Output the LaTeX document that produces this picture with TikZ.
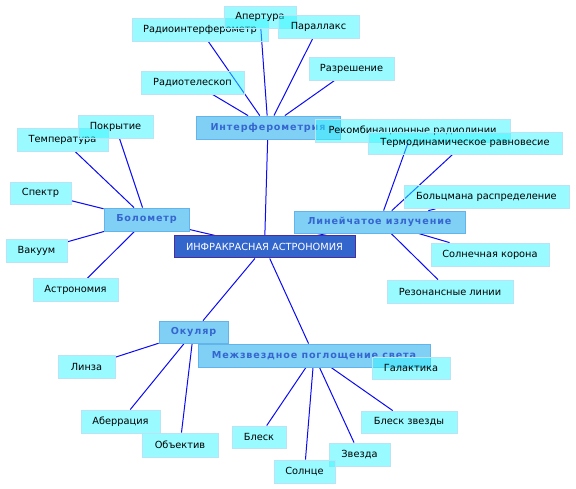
\documentclass[tikz,border=0pt]{standalone}
\usepackage{fontspec}
\setmainfont{DejaVu Sans}
\usetikzlibrary{positioning,backgrounds}
\definecolor{ink}{HTML}{000000}
\definecolor{wire}{HTML}{0A0AF5}
\definecolor{leaffill}{HTML}{33F6FF}
\definecolor{leafline}{HTML}{B8E4F6}
\definecolor{hubfill}{HTML}{80CFF5}
\definecolor{hubline}{HTML}{62B4EA}
\definecolor{hubtext}{HTML}{3566D0}
\definecolor{rootfill}{HTML}{3366CC}
\definecolor{rootline}{HTML}{4A2E9E}
\tikzset{
  leaf/.style={draw=leafline,line width=.8pt,fill=leaffill,fill opacity=.5,text opacity=1,inner sep=0pt,font=\fontsize{9.8}{11}\selectfont,text=ink},
  hub/.style={draw=hubline,line width=.8pt,fill=hubfill,inner sep=0pt,font=\fontsize{9.6}{11}\selectfont\bfseries\addfontfeatures{LetterSpace=9},text=hubtext},
  root/.style={draw=rootline,line width=1pt,fill=rootfill,inner sep=0pt,font=\fontsize{9.8}{11}\selectfont,text=white},
  link/.style={draw=wire,line width=1pt},
}

\begin{document}
\begin{tikzpicture}[x=1pt,y=-1pt]
  \useasboundingbox (0,0) rectangle (576,489);

  % ── centre and the five branches ──
  \node[root,minimum width=181pt,minimum height=22pt] (root) at (264.5,247) {ИНФРАКРАСНАЯ АСТРОНОМИЯ};
  \node[hub,minimum width=144pt,minimum height=23pt] (interf) at (268,127.5) {Интерферометрия};
  \node[hub,minimum width=85pt,minimum height=23pt] (bolom) at (146.5,219.5) {Болометр};
  \node[hub,minimum width=171pt,minimum height=22pt] (linei) at (379.5,222) {Линейчатое излучение};
  \node[hub,minimum width=69pt,minimum height=22pt] (okul) at (193.5,332) {Окуляр};
  \node[hub,minimum width=232pt,minimum height=23pt] (mezh) at (314,355.5) {Межзвездное поглощение света};

  % ── leaves: name / x / y / width / height / text ──
  \foreach \n/\x/\y/\w/\h/\t in {
      radint/200/29.5/136/23/Радиоинтерферометр,
      apert/260/17/72/22/Апертура,
      parall/318.5/27/81/23/Параллакс,
      razr/351.5/68.5/85/23/Разрешение,
      radtel/192.5/82.5/103/23/Радиотелескоп,
      rekomb/412.5/130.5/195/23/Рекомбинационные радиолинии,
      termo/465/143/194/22/Термодинамическое равновесие,
      bolc/486.5/197/165/23/Больцмана распределение,
      solkor/490/254.5/118/23/Солнечная корона,
      rezon/450/291.5/126/23/Резонансные линии,
      temp/62.5/139.5/91/23/Температура,
      pokr/115.5/126.5/75/23/Покрытие,
      spektr/40.5/193/61/22/Спектр,
      vakuum/36.5/250.5/61/23/Вакуум,
      astron/75.5/290/85/23/Астрономия,
      linza/86.5/366.5/57/23/Линза,
      aberr/120.5/421.5/79/23/Аберрация,
      obj/180/445/76/24/Объектив,
      galakt/411/368/78/22/Галактика,
      blzv/409/422/96/22/Блеск звезды,
      blesk/259/437/54/22/Блеск,
      zvezda/359.5/454.5/61/23/Звезда,
      solnce/304.5/471.5/61/23/Солнце}
    \node[leaf,minimum width=\w pt,minimum height=\h pt] (\n) at (\x,\y) {\t};

  % ── connectors, behind the boxes ──
  \begin{scope}[on background layer]
    \foreach \a/\b in {root/interf,root/bolom,root/linei,root/okul,root/mezh,
        interf/radint,interf/apert,interf/parall,interf/razr,interf/radtel,
        linei/rekomb,linei/termo,linei/bolc,linei/solkor,linei/rezon,
        bolom/pokr,bolom/temp,bolom/spektr,bolom/vakuum,bolom/astron,
        okul/linza,okul/aberr,okul/obj,
        mezh/galakt,mezh/blzv,mezh/blesk,mezh/zvezda,mezh/solnce}
      \draw[link] (\a) -- (\b);
  \end{scope}
\end{tikzpicture}
\end{document}
